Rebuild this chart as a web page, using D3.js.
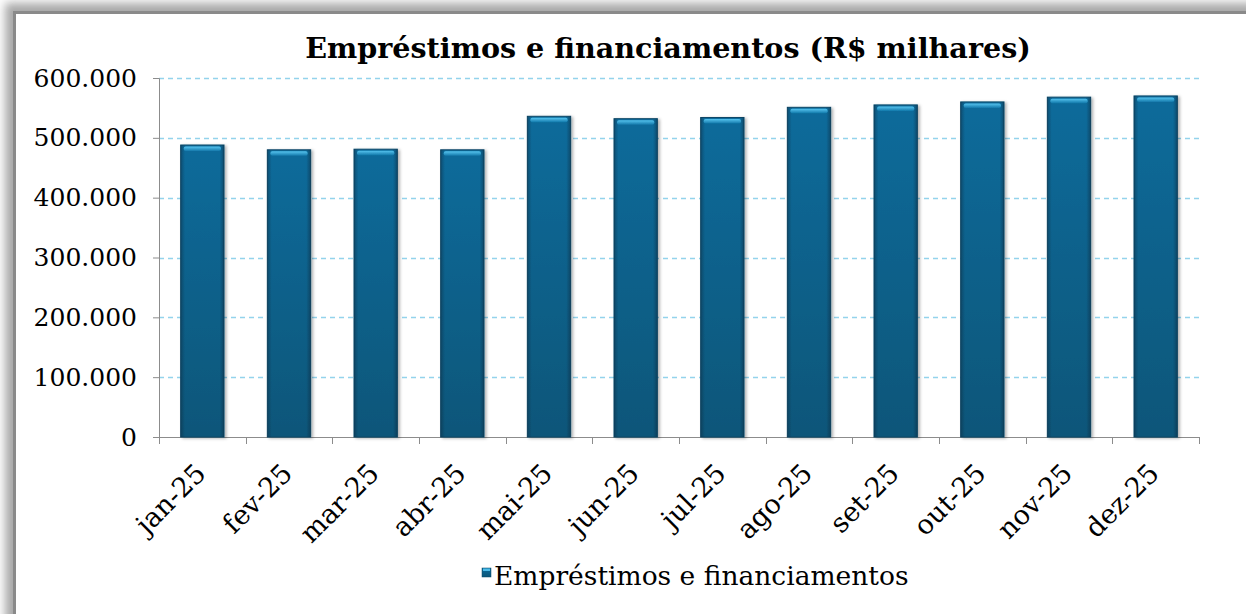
<!DOCTYPE html>
<html>
<head>
<meta charset="utf-8">
<script src="https://cdn.jsdelivr.net/npm/d3@7"></script>
<style>
  body { margin: 0; background: #fff; }
  svg { display: block; }
</style>
</head>
<body>
<svg width="1246" height="614"></svg>
<script>
var months = [ 'jan-25', 'fev-25', 'mar-25', 'abr-25', 'mai-25', 'jun-25',
               'jul-25', 'ago-25', 'set-25', 'out-25', 'nov-25', 'dez-25' ],
    values = [ 488000, 480000, 481000, 480000, 536000, 532000,
               534000, 551000, 555000, 560000, 568000, 570000 ],
    yTicks = [ 0, 100000, 200000, 300000, 400000, 500000, 600000 ],
    seriesName = 'Empréstimos e financiamentos',
    title = 'Empréstimos e financiamentos (R$ milhares)';

var svg    = d3.select( 'svg' ),
    margin = { top : 78, left : 159, right : 47, bottom : 177 },
    width  = 1246 - margin.left - margin.right,
    height = 614 - margin.top - margin.bottom,
    fmt    = function( v ) { return v === 0 ? '0' : d3.format( ',' )( v ).replace( /,/g, '.' ); },

    x = d3.scaleBand().domain( months ).range( [ 0, width ] ).paddingInner( 0.5 ).paddingOuter( 0.25 ),
    y = d3.scaleLinear().domain( [ 0, 600000 ] ).range( [ height, 0 ] ),
    defs = svg.append( 'defs' );

// gradients + shadow
var g1 = defs.append( 'linearGradient' ).attr( 'id', 'barV' ).attr( 'x1', 0 ).attr( 'y1', 0 ).attr( 'x2', 0 ).attr( 'y2', 1 );
g1.append( 'stop' ).attr( 'offset', '0%' ).attr( 'stop-color', '#0c6b9b' );
g1.append( 'stop' ).attr( 'offset', '100%' ).attr( 'stop-color', '#0a5679' );

var g2 = defs.append( 'linearGradient' ).attr( 'id', 'barH' );
g2.append( 'stop' ).attr( 'offset', '0%' ).attr( 'stop-color', '#062b40' ).attr( 'stop-opacity', 0.45 );
g2.append( 'stop' ).attr( 'offset', '10%' ).attr( 'stop-color', '#062b40' ).attr( 'stop-opacity', 0 );
g2.append( 'stop' ).attr( 'offset', '90%' ).attr( 'stop-color', '#062b40' ).attr( 'stop-opacity', 0 );
g2.append( 'stop' ).attr( 'offset', '100%' ).attr( 'stop-color', '#062b40' ).attr( 'stop-opacity', 0.5 );

var g3 = defs.append( 'linearGradient' ).attr( 'id', 'bevel' ).attr( 'x1', 0 ).attr( 'y1', 0 ).attr( 'x2', 0 ).attr( 'y2', 1 );
g3.append( 'stop' ).attr( 'offset', '0%' ).attr( 'stop-color', '#56c4ef' );
g3.append( 'stop' ).attr( 'offset', '100%' ).attr( 'stop-color', '#1379ab' );

var sh = defs.append( 'filter' ).attr( 'id', 'shadow' ).attr( 'x', '-20%' ).attr( 'y', '-20%' ).attr( 'width', '150%' ).attr( 'height', '150%' );
sh.append( 'feDropShadow' ).attr( 'dx', 2 ).attr( 'dy', 1 ).attr( 'stdDeviation', 1.5 ).attr( 'flood-color', '#000' ).attr( 'flood-opacity', 0.3 );

var fr = defs.append( 'filter' ).attr( 'id', 'frameShadow' ).attr( 'x', '-5%' ).attr( 'y', '-5%' ).attr( 'width', '110%' ).attr( 'height', '110%' );
fr.append( 'feGaussianBlur' ).attr( 'stdDeviation', 5 );

// outer frame
svg.append( 'rect' ).attr( 'x', 5 ).attr( 'y', 3 ).attr( 'width', 1400 ).attr( 'height', 800 )
    .attr( 'fill', '#a8a8a8' ).attr( 'filter', 'url(#frameShadow)' );
svg.append( 'rect' ).attr( 'x', 14.5 ).attr( 'y', 12.5 ).attr( 'width', 1400 ).attr( 'height', 800 )
    .attr( 'fill', '#fff' ).attr( 'stroke', '#8a8a8a' ).attr( 'stroke-width', 3 );

var g = svg.append( 'g' ).attr( 'transform', 'translate(' + margin.left + ',' + margin.top + ')' );

// grid
g.selectAll( '.grid' ).data( yTicks.filter( function( d ) { return d > 0; } ) ).enter()
    .append( 'line' )
    .attr( 'x1', 0 ).attr( 'x2', width )
    .attr( 'y1', function( d ) { return Math.round( y( d ) ) + 0.5; } )
    .attr( 'y2', function( d ) { return Math.round( y( d ) ) + 0.5; } )
    .attr( 'stroke', '#93d3ec' ).attr( 'stroke-width', 1.5 ).attr( 'stroke-dasharray', '5,4' );

// y axis
var yAxis = g.append( 'g' ).call( d3.axisLeft( y ).tickValues( yTicks ).tickFormat( fmt ).tickSize( 6 ).tickPadding( 16 ) );
yAxis.selectAll( 'line, path' ).attr( 'stroke', '#8c8c8c' );
yAxis.selectAll( 'text' ).attr( 'font-family', 'DejaVu Serif' ).attr( 'font-size', 25 ).attr( 'fill', '#000' );

// x axis
var xAxis = g.append( 'g' ).attr( 'transform', 'translate(0,' + height + ')' )
    .call( d3.axisBottom( x ).tickSize( 0 ).tickFormat( '' ) );
xAxis.select( 'path' ).attr( 'stroke', '#8c8c8c' );
xAxis.selectAll( '.tick' ).remove();
var edges = months.map( function( m ) { return x( m ) - x.step() * x.paddingInner() / 2; } ).concat( [ width ] );
xAxis.selectAll( '.edge' ).data( edges ).enter().append( 'line' )
    .attr( 'x1', function( d ) { return Math.round( d ) + 0.5; } )
    .attr( 'x2', function( d ) { return Math.round( d ) + 0.5; } )
    .attr( 'y1', 0 ).attr( 'y2', 7 ).attr( 'stroke', '#8c8c8c' );

xAxis.selectAll( '.lbl' ).data( months ).enter().append( 'text' )
    .attr( 'transform', function( d ) {
        return 'translate(' + ( x( d ) + x.bandwidth() / 2 + 5 ) + ',' + 38 + ') rotate(-45)';
    } )
    .attr( 'text-anchor', 'end' )
    .attr( 'font-family', 'DejaVu Serif' ).attr( 'font-size', 27 ).attr( 'fill', '#000' )
    .text( function( d ) { return d; } );

// bars
var bars = g.selectAll( '.bar' ).data( values ).enter().append( 'g' )
    .attr( 'filter', 'url(#shadow)' );
bars.append( 'rect' )
    .attr( 'x', function( d, i ) { return x( months[ i ] ); } )
    .attr( 'y', function( d ) { return y( d ); } )
    .attr( 'width', x.bandwidth() )
    .attr( 'height', function( d ) { return height - y( d ); } )
    .attr( 'fill', 'url(#barV)' ).attr( 'stroke', '#0a4868' ).attr( 'stroke-width', 1 );
bars.append( 'rect' )
    .attr( 'x', function( d, i ) { return x( months[ i ] ); } )
    .attr( 'y', function( d ) { return y( d ); } )
    .attr( 'width', x.bandwidth() )
    .attr( 'height', function( d ) { return height - y( d ); } )
    .attr( 'fill', 'url(#barH)' );
bars.append( 'rect' )
    .attr( 'x', function( d, i ) { return x( months[ i ] ) + 3; } )
    .attr( 'y', function( d ) { return y( d ) + 1.5; } )
    .attr( 'width', x.bandwidth() - 6 )
    .attr( 'height', 4.5 ).attr( 'rx', 2 )
    .attr( 'fill', 'url(#bevel)' );

// title
svg.append( 'text' ).attr( 'x', 668 ).attr( 'y', 58 ).attr( 'text-anchor', 'middle' )
    .attr( 'font-family', 'DejaVu Serif' ).attr( 'font-weight', 'bold' ).attr( 'font-size', 28.6 )
    .text( title );

// legend
svg.append( 'rect' ).attr( 'x', 482 ).attr( 'y', 568 ).attr( 'width', 9 ).attr( 'height', 9 )
    .attr( 'fill', 'url(#barV)' ).attr( 'stroke', '#0a4868' ).attr( 'stroke-width', 0.5 );
svg.append( 'rect' ).attr( 'x', 483 ).attr( 'y', 568.5 ).attr( 'width', 7 ).attr( 'height', 2.5 )
    .attr( 'fill', '#4bbbe8' );
svg.append( 'text' ).attr( 'x', 494 ).attr( 'y', 585 )
    .attr( 'font-family', 'DejaVu Serif' ).attr( 'font-size', 26.5 )
    .text( seriesName );
</script>
</body>
</html>
